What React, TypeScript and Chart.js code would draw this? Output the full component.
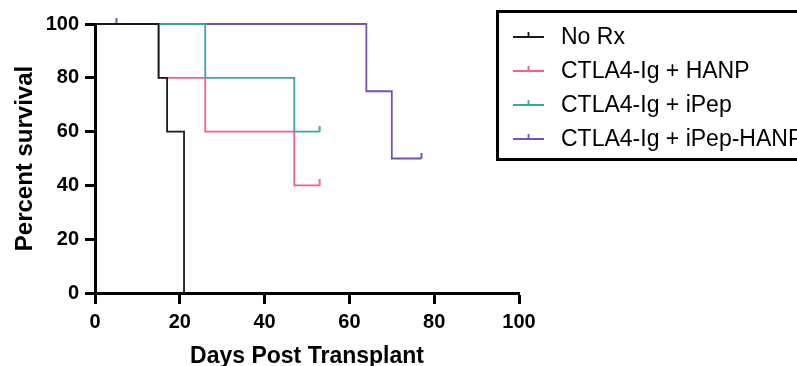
import { useEffect, useRef } from "react";
import { Chart, registerables } from "chart.js";

Chart.register(...registerables);

// Kaplan–Meier survival steps per group (day, percent survival, censored flag)
const seriesNames = ["No Rx", "CTLA4-Ig + HANP", "CTLA4-Ig + iPep", "CTLA4-Ig + iPep-HANP"];

const noRxDays = [0, 15, 17, 21];
const noRxSurvival = [100, 80, 60, 0];
const noRxCensored = [false, false, false, false];

const hanpDays = [0, 15, 26, 47, 53];
const hanpSurvival = [100, 80, 60, 40, 40];
const hanpCensored = [false, false, false, false, true];

const ipepDays = [0, 26, 47, 53];
const ipepSurvival = [100, 80, 60, 60];
const ipepCensored = [false, false, false, true];

const ipepHanpDays = [0, 5, 64, 70, 77];
const ipepHanpSurvival = [100, 100, 75, 50, 50];
const ipepHanpCensored = [false, true, false, false, true];

const xTickValues = [0, 20, 40, 60, 80, 100];
const yTickValues = [0, 20, 40, 60, 80, 100];

const seriesColors = ["#1a1a1a", "#ff5a8c", "#36a6a6", "#7650b4"];

const FONT = "'Liberation Sans', Arial, Helvetica, sans-serif";

// Small upward tick used as the censoring mark
function censorMark(color: string): HTMLCanvasElement {
  const c = document.createElement("canvas");
  c.width = 3;
  c.height = 12;
  const g = c.getContext("2d")!;
  g.fillStyle = color;
  g.fillRect(0.5, 0, 2, 6);
  return c;
}

function toPoints(days: number[], surv: number[]) {
  return days.map((d, i) => ({ x: d, y: surv[i] }));
}

const legendBox = {
  id: "legendBox",
  afterDraw(chart: Chart) {
    const { ctx } = chart;
    ctx.save();
    ctx.strokeStyle = "#000";
    ctx.lineWidth = 3;
    ctx.strokeRect(497.5, 11.5, 400, 148);
    ctx.font = `23px ${FONT}`;
    ctx.textBaseline = "middle";
    ctx.textAlign = "left";
    chart.data.datasets.forEach((ds: any, i: number) => {
      const y = 37 + i * 34;
      ctx.strokeStyle = ds.borderColor;
      ctx.lineWidth = 1.8;
      ctx.beginPath();
      ctx.moveTo(513, y);
      ctx.lineTo(544, y);
      ctx.moveTo(528.5, y);
      ctx.lineTo(528.5, y - 5);
      ctx.stroke();
      ctx.fillStyle = "#000";
      ctx.fillText(ds.label, 561, y + 1);
    });
    ctx.restore();
  },
};

export default function App() {
  const canvasRef = useRef<HTMLCanvasElement | null>(null);

  useEffect(() => {
    if (!canvasRef.current) return;
    const groups = [
      { days: noRxDays, surv: noRxSurvival, cens: noRxCensored },
      { days: hanpDays, surv: hanpSurvival, cens: hanpCensored },
      { days: ipepDays, surv: ipepSurvival, cens: ipepCensored },
      { days: ipepHanpDays, surv: ipepHanpSurvival, cens: ipepHanpCensored },
    ];
    const datasets = groups.map((g, i) => {
      const mark = censorMark(seriesColors[i]);
      return {
        label: seriesNames[i],
        data: toPoints(g.days, g.surv),
        borderColor: seriesColors[i],
        backgroundColor: seriesColors[i],
        borderWidth: 1.8,
        stepped: "before" as const,
        fill: false,
        clip: false as const,
        pointStyle: g.cens.map((c) => (c ? mark : false)) as any,
        pointRadius: g.cens.map((c) => (c ? 6 : 0)),
        pointHoverRadius: 0,
      };
    });

    const chart = new Chart(canvasRef.current, {
      type: "line",
      data: { datasets },
      plugins: [legendBox],
      options: {
        animation: false,
        responsive: false,
        maintainAspectRatio: false,
        layout: { padding: { top: 24, right: 278, left: 0, bottom: 0 } },
        plugins: { legend: { display: false }, tooltip: { enabled: false } },
        scales: {
          x: {
            type: "linear",
            min: 0,
            max: 100,
            afterBuildTicks: (s: any) => {
              s.ticks = xTickValues.map((v) => ({ value: v }));
            },
            afterFit: (s: any) => {
              s.height = 73;
            },
            ticks: {
              color: "#000",
              padding: 6,
              maxRotation: 0,
              font: { family: FONT, size: 20, weight: "bold" },
            },
            grid: {
              drawOnChartArea: false,
              drawTicks: true,
              tickLength: 11,
              tickWidth: 3,
              tickColor: "#000",
            },
            border: { display: true, width: 3, color: "#000" },
            title: {
              display: true,
              text: "Days Post Transplant",
              color: "#000",
              font: { family: FONT, size: 23, weight: "bold" },
              padding: { top: 0, bottom: -4 },
            },
          },
          y: {
            type: "linear",
            min: 0,
            max: 100,
            afterBuildTicks: (s: any) => {
              s.ticks = yTickValues.map((v) => ({ value: v }));
            },
            afterFit: (s: any) => {
              s.width = 95;
            },
            ticks: {
              color: "#000",
              padding: 6,
              font: { family: FONT, size: 20, weight: "bold" },
            },
            grid: {
              drawOnChartArea: false,
              drawTicks: true,
              tickLength: 10,
              tickWidth: 3,
              tickColor: "#000",
            },
            border: { display: true, width: 3, color: "#000" },
            title: {
              display: true,
              text: "Percent survival",
              color: "#000",
              font: { family: FONT, size: 24, weight: "bold" },
              padding: { top: 11, bottom: 0 },
            },
          },
        },
      },
    });
    return () => chart.destroy();
  }, []);

  return (
    <div style={{ position: "fixed", left: 0, top: 0, width: 797, height: 366, background: "#fff" }}>
      <canvas ref={canvasRef} width={797} height={366} style={{ display: "block" }} />
    </div>
  );
}
